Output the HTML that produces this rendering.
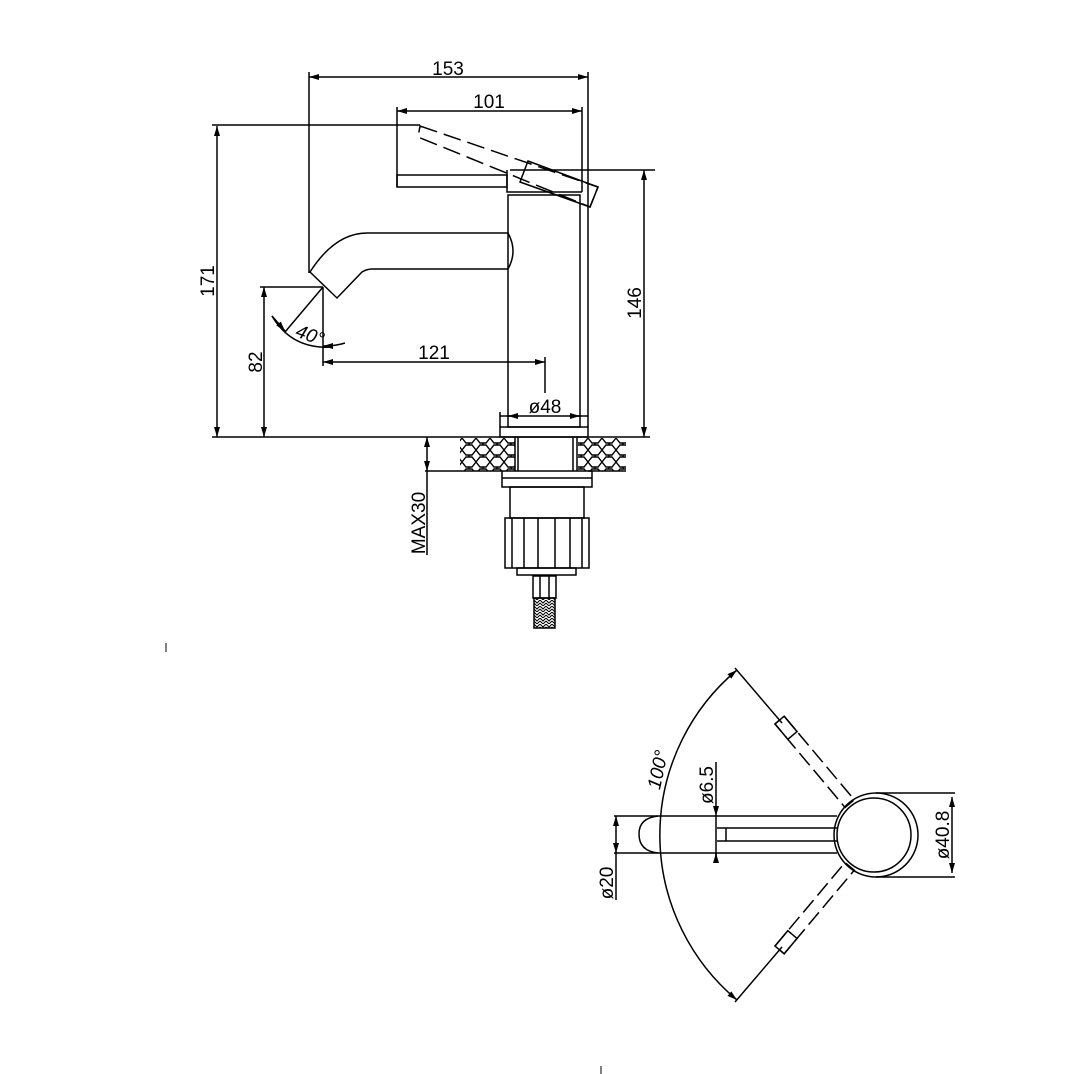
<!DOCTYPE html>
<html><head><meta charset="utf-8"><style>
html,body{margin:0;padding:0;background:#fff}
svg{display:block}
text{font-family:"Liberation Sans",sans-serif;font-size:19px;fill:#000}
</style></head><body>
<svg width="1074" height="1074" viewBox="0 0 1074 1074" xmlns="http://www.w3.org/2000/svg">
<defs>
<marker id="a" viewBox="0 0 10 6" refX="10" refY="3" markerWidth="10" markerHeight="6" orient="auto-start-reverse" markerUnits="userSpaceOnUse"><path d="M0,0 L10,3 L0,6 z" fill="#000"/></marker>
<pattern id="stone" width="14" height="12" patternUnits="userSpaceOnUse"><path d="M0,6 L4,1 L10,1 L14,6 L10,11 L4,11 z M7,1 L7,0 M7,11 L7,12" fill="none" stroke="#000" stroke-width="1.4"/></pattern>
<pattern id="hose" width="6" height="6" patternUnits="userSpaceOnUse"><path d="M0,0 L3,3 L6,0 M0,3 L3,6 L6,3" fill="none" stroke="#000" stroke-width="1"/></pattern>
</defs>
<g fill="none" stroke="#000" stroke-width="1.5">
<line x1="309" y1="77" x2="588" y2="77" marker-start="url(#a)" marker-end="url(#a)"/>
<line x1="309" y1="72" x2="309" y2="273"/>
<line x1="588" y1="72" x2="588" y2="427"/>
<line x1="397" y1="111" x2="582" y2="111" marker-start="url(#a)" marker-end="url(#a)"/>
<line x1="397" y1="107" x2="397" y2="187"/>
<line x1="582" y1="107" x2="582" y2="192"/>
<rect x="397" y="175" width="110" height="12"/>
<path d="M507,170 L507,192 L582,192"/>
<rect x="508" y="195" width="72" height="232"/>
<polygon points="420,126 598,187 590,207 418,137" stroke-dasharray="18,7"/>
<polygon points="528,161 598,187 590,207 520,182"/>
<line x1="217" y1="126" x2="217" y2="437" marker-start="url(#a)" marker-end="url(#a)"/>
<line x1="212" y1="125" x2="420" y2="125"/>
<line x1="644" y1="170" x2="644" y2="437" marker-start="url(#a)" marker-end="url(#a)"/>
<line x1="510" y1="170" x2="655" y2="170"/>
<path d="M508,233 L367,233 Q335,233 310,272 L337,298 L362,272 Q367,269 372,269 L508,269"/>
<path d="M508,233 Q518,251 508,269"/>
<line x1="264" y1="287" x2="264" y2="437" marker-start="url(#a)" marker-end="url(#a)"/>
<line x1="260" y1="287" x2="323" y2="287"/>
<line x1="323" y1="287" x2="323" y2="366"/>
<line x1="323" y1="287" x2="285" y2="332"/>
<path d="M272,316 Q292,350 333,347" />
<line x1="272" y1="316" x2="285" y2="331" marker-end="url(#a)"/>
<path d="M345,343 Q336,346 323,346" marker-end="url(#a)"/>
<line x1="323" y1="362" x2="545" y2="362" marker-start="url(#a)" marker-end="url(#a)"/>
<line x1="545" y1="357" x2="545" y2="393"/>
<line x1="500" y1="416" x2="588" y2="416"/>
<line x1="518" y1="416" x2="508" y2="416" marker-end="url(#a)"/>
<line x1="570" y1="416" x2="580" y2="416" marker-end="url(#a)"/>
<line x1="500" y1="412" x2="500" y2="427"/>
<rect x="500" y="427" width="88" height="10"/>
<line x1="212" y1="437" x2="650" y2="437"/>
<rect x="460" y="438" width="55" height="33" fill="url(#stone)" stroke="none"/>
<rect x="578" y="438" width="48" height="33" fill="url(#stone)" stroke="none"/>
<line x1="425" y1="471" x2="502" y2="471"/>
<line x1="588" y1="471" x2="626" y2="471"/>
<line x1="515" y1="437" x2="515" y2="471"/>
<line x1="518" y1="437" x2="518" y2="471"/>
<line x1="573" y1="437" x2="573" y2="471"/>
<line x1="577" y1="437" x2="577" y2="471"/>
<line x1="427" y1="437" x2="427" y2="471" marker-start="url(#a)" marker-end="url(#a)"/>
<line x1="427" y1="471" x2="427" y2="555"/>
<rect x="502" y="471" width="90" height="16"/>
<line x1="502" y1="478" x2="592" y2="478"/>
<rect x="510" y="487" width="74" height="31"/>
<rect x="505" y="518" width="84" height="50"/>
<path d="M512,518V568 M524,518V568 M538,518V568 M555,518V568 M570,518V568 M582,518V568"/>
<rect x="517" y="568" width="59" height="7"/>
<rect x="533" y="576" width="23" height="22"/>
<path d="M540,576V598 M549,576V598"/>
<rect x="534" y="598" width="21" height="30" fill="url(#hose)"/>
<circle cx="876" cy="835" r="42"/>
<circle cx="874" cy="835" r="37"/>
<path d="M837,816 L614,816 M837,853 L614,853"/>
<path d="M658,816 Q639,818 639,834 Q639,851 658,853"/>
<path d="M717,828 L837,828 M717,841 L837,841 M726,828 V841"/>
<line x1="716" y1="762" x2="716" y2="816" marker-end="url(#a)"/>
<line x1="716" y1="860" x2="716" y2="853" marker-end="url(#a)"/>
<line x1="716" y1="816" x2="716" y2="860"/>
<line x1="616" y1="816" x2="616" y2="853" marker-start="url(#a)" marker-end="url(#a)"/>
<line x1="616" y1="853" x2="616" y2="900"/>
<line x1="876" y1="793" x2="955" y2="793"/>
<line x1="876" y1="877" x2="955" y2="877"/>
<line x1="952" y1="797" x2="952" y2="873" marker-start="url(#a)" marker-end="url(#a)"/>
<path d="M737,670 A215,215 0 0 0 737,1000" marker-start="url(#a)" marker-end="url(#a)"/>
<line x1="735" y1="668" x2="782" y2="723"/>
<line x1="735" y1="1002" x2="782" y2="947"/>
<g transform="rotate(50 876 835)">
<rect x="726" y="829" width="109" height="12" stroke-dasharray="16,6"/>
<rect x="726" y="829" width="20" height="12"/>
</g>
<g transform="rotate(-50 876 835)">
<rect x="726" y="829" width="109" height="12" stroke-dasharray="16,6"/>
<rect x="726" y="829" width="20" height="12"/>
</g>
<line x1="166" y1="643" x2="166" y2="652" stroke-width="1"/>
<line x1="601" y1="1066" x2="601" y2="1074" stroke-width="1"/>
</g>
<text x="448" y="75" text-anchor="middle">153</text>
<text x="489" y="108" text-anchor="middle">101</text>
<text x="434" y="359" text-anchor="middle">121</text>
<text x="545" y="413" text-anchor="middle">ø48</text>
<text x="308" y="341" text-anchor="middle" font-style="italic" transform="rotate(20 308 341)">40°</text>
<text transform="translate(214,281) rotate(-90)" text-anchor="middle">171</text>
<text transform="translate(262,362) rotate(-90)" text-anchor="middle">82</text>
<text transform="translate(641,303) rotate(-90)" text-anchor="middle">146</text>
<text transform="translate(425,523) rotate(-90)" text-anchor="middle">MAX30</text>
<text transform="translate(713,785) rotate(-90)" text-anchor="middle">ø6.5</text>
<text transform="translate(613,883) rotate(-90)" text-anchor="middle">ø20</text>
<text transform="translate(949,835) rotate(-90)" text-anchor="middle">ø40.8</text>
<text transform="translate(664,771) rotate(-78)" text-anchor="middle" font-style="italic">100°</text>
</svg>
</body></html>
